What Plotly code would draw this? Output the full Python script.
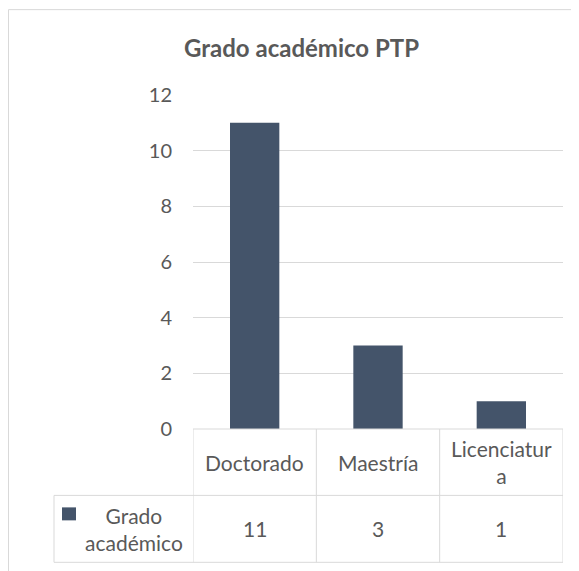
import plotly.graph_objects as go

# ---- data ----
categories = ["Doctorado", "Maestría", "Licenciatura"]
category_labels = ["Doctorado", "Maestría", "Licenciatur<br>a"]
values = [11, 3, 1]
series_name = "Grado<br>académico"
title_text = "Grado académico PTP"
y_ticks = [0, 2, 4, 6, 8, 10, 12]

# ---- layout constants (pixels in the screenshot) ----
OFF = 8  # page body margin offset
W, H = 579, 571
PLOT_L, PLOT_R, PLOT_T, PLOT_B = 193, 563, 95, 429.5  # target pixel positions on screen
L = PLOT_L - OFF
T = PLOT_T - OFF
R = W - (PLOT_R - OFF)
B = H - (PLOT_B - OFF)
PW, PH = W - L - R, H - T - B
TEXT = "#595959"
GRID = "#D9D9D9"
BAR = "#44546A"
FONT = "Lato"


def px(xs):
    # screen x pixel -> paper
    return (xs - PLOT_L) / (PLOT_R - PLOT_L)


def py(ys):
    # screen y pixel -> paper
    return (PLOT_B - ys) / (PLOT_B - PLOT_T)


table_left = px(54)
row_mid = py(496)
row_bot = py(563)

fig = go.Figure()
fig.add_trace(go.Bar(x=categories, y=values, marker=dict(color=BAR, line=dict(width=0)),
                     name="Grado académico", showlegend=False))

shapes = []
line = dict(color=GRID, width=1)
# outer chart border (top & left)
shapes.append(dict(type="line", xref="paper", yref="paper", x0=px(8.5), x1=px(640), y0=py(9.5), y1=py(9.5), line=line))
shapes.append(dict(type="line", xref="paper", yref="paper", x0=px(8.5), x1=px(8.5), y0=py(9.5), y1=py(640), line=line))
# data table vertical lines at category boundaries
for i in range(len(categories) + 1):
    shapes.append(dict(type="line", xref="x", yref="paper", x0=i - 0.5, x1=i - 0.5, y0=0, y1=row_bot, line=line))
# table top (axis line)
shapes.append(dict(type="line", xref="x", yref="paper", x0=-0.5, x1=len(categories) - 0.5, y0=0, y1=0, line=line))
# header bottom / data bottom
for yy in (row_mid, row_bot):
    shapes.append(dict(type="line", xref="paper", yref="paper", x0=table_left, x1=1, y0=yy, y1=yy, line=line))
shapes.append(dict(type="line", xref="paper", yref="paper", x0=table_left, x1=table_left, y0=row_mid, y1=row_bot, line=line))
# legend key square
shapes.append(dict(type="rect", xref="paper", yref="paper", x0=px(62), x1=px(76), y0=py(521), y1=py(508),
                   fillcolor=BAR, line=dict(width=0)))

annotations = []
for i, lab in enumerate(category_labels):
    annotations.append(dict(x=i, xref="x", y=(0 + row_mid) / 2, yref="paper", text=lab, showarrow=False,
                            font=dict(family=FONT, size=21, color=TEXT), xanchor="center", yanchor="middle"))
for i, v in enumerate(values):
    annotations.append(dict(x=i, xref="x", y=(row_mid + row_bot) / 2, yref="paper", text=str(v), showarrow=False,
                            font=dict(family=FONT, size=21, color=TEXT), xanchor="center", yanchor="middle"))
annotations.append(dict(x=px(133.5), xref="paper", y=(row_mid + row_bot) / 2, yref="paper", text=series_name,
                        showarrow=False, font=dict(family=FONT, size=21, color=TEXT), xanchor="center", yanchor="middle"))
# chart title
annotations.append(dict(x=px(301), xref="paper", y=py(47), yref="paper", text="<b>" + title_text + "</b>",
                        showarrow=False, font=dict(family=FONT, size=24, color=TEXT), xanchor="center", yanchor="middle"))

fig.update_layout(
    width=W, height=H,
    margin=dict(l=L, r=R, t=T, b=B, pad=0),
    paper_bgcolor="white", plot_bgcolor="white",
    bargap=0.6,
    xaxis=dict(range=[-0.5, len(categories) - 0.5], showticklabels=False, showgrid=False, zeroline=False,
               showline=False, ticks="", automargin=False),
    yaxis=dict(range=[0, 12], tickvals=y_ticks, showgrid=True, gridcolor=GRID, gridwidth=1, zeroline=False,
               showline=False, ticks="", ticklabelstandoff=20, automargin=False,
               tickfont=dict(family=FONT, size=20, color=TEXT)),
    shapes=shapes,
    annotations=annotations,
    showlegend=False,
)

fig.write_html("out.html")
